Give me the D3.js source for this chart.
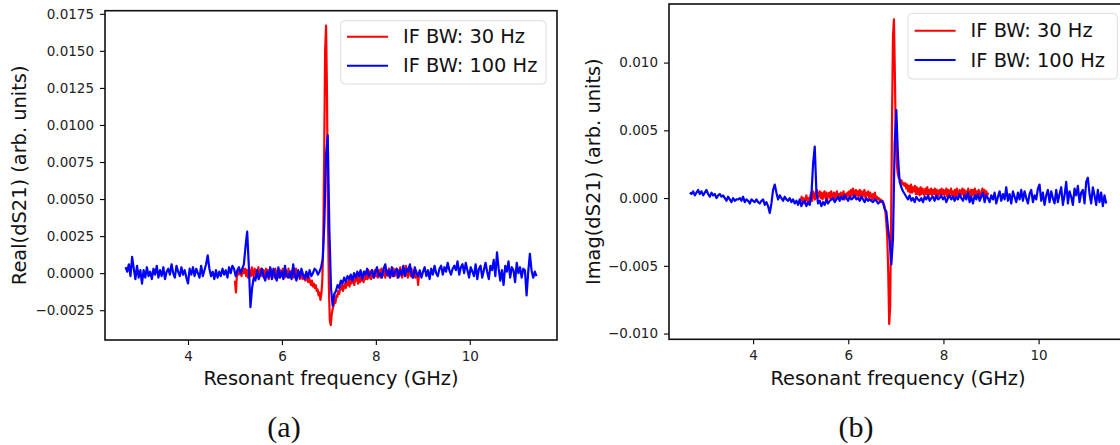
<!DOCTYPE html>
<html>
<head>
<meta charset="utf-8">
<script src="https://cdn.jsdelivr.net/npm/d3@7"></script>
<style>
  body { margin: 0; background: #fff; }
  svg { display: block; font-family: "DejaVu Sans", sans-serif; }
</style>
</head>
<body>
<div id="chart"></div>
<script>
// series, values in units of 1e-4 (arb. units)
var seriesNames = ["IF BW: 30 Hz", "IF BW: 100 Hz"];
var seriesColors = ["#ff0000", "#0000ff"];

// frequency sweeps (GHz): start and step of each sweep
var f30Start = 5.0, f30Step = 0.02;
var f100Start = 2.67, f100Step = 0.035;

var xTicks = [4, 6, 8, 10];
var realTicks = [-0.0025, 0, 0.0025, 0.005, 0.0075, 0.01, 0.0125, 0.015, 0.0175];
var imagTicks = [-0.01, -0.005, 0, 0.005, 0.01];

var real30 = [
  -5, -13, -2, 1, -1, 2, 0, -2, 1, 3,
  0, 3, -2, 2, -3, 3, 1, -2, 4, -1,
  -2, 3, 0, -3, 2, 4, -2, 1, 3, -2,
  2, -3, 1, 3, -2, 2, -4, 0, 3, -2,
  0, 2, -3, 3, -2, 1, 2, -3, 2, -2,
  1, 3, -2, -3, 2, 0, -2, 3, -3, 1,
  -2, 2, -3, 1, -2, 3, -3, -1, 1, -4,
  -1, -2, -4, -1, -3, -5, -2, -4, -6, -3,
  -6, -8, -5, -9, -7, -10, -8, -12, -11, -15,
  -13, -18, -14, -5, 20, 80, 150, 167, 120, 40,
  -10, -32, -35, -28, -24, -22, -18, -20, -15, -16,
  -12, -14, -10, -11, -8, -12, -9, -7, -10, -6,
  -8, -5, -9, -4, -7, -6, -3, -8, -4, -5,
  -2, -7, -2, -6, 0, -5, -1, -6, 1, -4,
  -1, -4, 2, -3, 1, -4, 2, -2, -3, 2,
  -2, 3, -3, 1, 2, -3, 3, -2, 0, 2,
  -3, 2, 0, -2, 3, -3, 1, 2, -2, 3,
  -2, 1, 3, -3, 2, -2, 4, 0, -3, 2,
  3, -2, 5, 0, -3, 4, 1, -2, 3, -3,
  0, 2, -3, 1, -1, -8, 0, -2
];

var real100 = [
  4, 1, 6, -2, 11, 3, -4, 5, -3, 2,
  -7, 2, -3, 4, -2, 1, -4, 3, -1, 5,
  -3, 2, -2, 4, -4, 1, 3, -1, 6, 0,
  -3, 5, 1, -2, 4, -1, 2, -3, -7, 3,
  -1, 4, -2, 3, 0, -3, 5, -2, 2, 6,
  12, 3, -2, 1, -4, 2, -3, 1, -2, 3,
  -1, 2, -3, 4, 0, 5, 3, -2, 2, 4,
  0, 3, 6, 18, 28, 5, -23, -10, -3, -5,
  2, -4, -1, 3, -2, -5, 1, -3, 4, -4,
  3, -2, -5, 4, -3, 1, -4, 5, -2, -3,
  1, -4, 6, -2, -5, 2, -3, 3, -1, -4,
  1, -3, 2, -2, 0, 3, 2, -1, 1, 4,
  10, 35, 80, 93, 30, -10, -22, -14, -12, -8,
  -10, -5, -7, -3, -6, -2, -4, -1, -5, 0,
  -3, 1, -2, 2, -4, 1, -1, 3, -2, 0,
  2, -3, 1, 4, -2, 0, -3, 3, 6, -1,
  2, -3, 4, -2, 1, 3, -3, 2, -1, 5,
  -2, 3, 1, 6, -1, -3, 4, 0, -2, 2,
  -3, 1, 4, -2, 2, -4, 3, -1, 5, 0,
  -2, 3, 5, -1, 4, 1, 7, 2, -1, 3,
  5, 2, 8, -1, 4, 6, 0, 7, 2, -3,
  4, 1, -2, 6, -4, 3, 5, -3, 2, 7,
  1, -4, 5, 2, 9, -2, 14, 3, -5, 2,
  -8, 5, 1, 8, -3, 4, 2, -6, 7, 0,
  4, -3, 3, 2, -15, 1, 13, 2, -3, 1,
  -2
];

var imag30 = [
  -2, 1, -3, 0, -4, -1, 2, -2, 0, -3,
  1, 4, -2, 5, 2, -1, 4, 6, 0, 3,
  5, 0, 4, -1, 3, 5, 0, 4, -1, 3,
  4, 0, 5, 2, -1, 4, 0, 3, 5, 0,
  3, -1, 4, 0, 3, 5, -1, 3, 0, 4,
  2, 5, 0, 6, 2, 7, 1, 5, 6, 2,
  5, 1, 6, 2, 5, 1, 4, 6, 0, 4,
  2, 5, 0, 4, 2, -1, 3, 0, 4, -1,
  1, -1, 0, -2, -1, -3, -2, -4, -6, -10,
  -18, -30, -55, -93, -80, -20, 60, 120, 132, 90,
  40, 25, 18, 15, 14, 12, 13, 10, 11, 9,
  11, 7, 10, 5, 9, 4, 10, 4, 8, 5,
  9, 3, 8, 3, 7, 2, 8, 3, 7, 4,
  2, 7, 3, 8, 1, 6, 3, 7, 2, 6,
  3, 7, 2, 6, 1, 5, 6, 2, 7, 3,
  6, 2, 5, 7, 1, 6, 2, 5, 7, 2,
  5, 1, 6, 2, 7, 3, 1, 6, 2, 5,
  7, 2, 6, 1, 5, 2, 7, 3, 1, 6,
  2, 6, 3, 7, 1, 5, 2, 6, 3, 1,
  5, 7, 2, 6, 1, 5, 2, 4
];

var imag100 = [
  4, 3, 5, 2, 4, 6, 3, 5, 2, 4,
  6, 3, 1, 4, 2, 3, 0, 2, 3, 1,
  2, 0, -2, 1, -1, -3, 0, -2, -1, -1,
  0, -2, 1, -3, -1, -2, -4, -1, -2, -3,
  -1, -3, -4, -2, -1, -5, -3, -6, -11, -4,
  6, 10, 4, -1, 2, 0, -2, 1, -1, -2,
  0, -3, -1, -4, -2, -5, -1, -6, -3, -2,
  -6, -3, -5, 2, 25, 38, 5, -4, -2, -6,
  -3, -5, -1, -4, -2, -1, 0, -3, -1, 1,
  -2, 1, -1, 2, 0, -2, 1, -1, 0, 2,
  -1, 0, -2, 1, -1, -3, 0, -2, -1, -2,
  -3, -1, -2, -4, -3, -2, -3, -8, -10, -22,
  -32, -49, -30, 40, 65, 30, 12, 8, 5, 3,
  1, -1, 2, -2, 0, -3, 1, -1, -2, 0,
  -3, 1, -1, 2, -2, 0, 1, -2, 2, -1,
  0, 2, -1, 1, -3, 0, 2, -1, 1, -2,
  1, -1, 3, 0, -2, 2, -1, 4, -3, 1,
  -4, 2, -1, 3, -2, 1, 4, -3, 2, 0,
  -3, 2, -1, 4, -4, 1, 5, -2, 3, -1,
  8, -2, 3, -4, 5, 1, -3, 4, -1, 6,
  -2, 5, 0, -4, 3, 6, -3, 2, -1, 7,
  10, -2, 4, -5, 2, 6, -3, 5, 0, -4,
  6, -3, 3, 8, -5, 2, 12, -4, 5, 1,
  -5, 7, 2, 9, -3, 4, 6, -4, 12, 15,
  3, -4, 8, 2, -5, 6, -3, 4, -6, 2,
  -4
];

function toPoints(vals, start, step) {
  return vals.map(function(v, i) { return [start + step * i, v * 1e-4]; });
}

var panels = [
  { label: "(a)", ylabel: "Real(dS21) (arb. units)", ticks: realTicks, fmt: ".4f",
    left: 105, right: 557, top: 10.7, bottom: 340, ylabX: 19, capX: 284,
    legend: { x0: 340.7, x1: 546, y0: 20.7, y1: 84, rows: [36.7, 65.7], lx: 347 },
    series: [toPoints(real30, f30Start, f30Step), toPoints(real100, f100Start, f100Step)] },
  { label: "(b)", ylabel: "Imag(dS21) (arb. units)", ticks: imagTicks, fmt: ".3f",
    left: 669, right: 1127, top: 4, bottom: 339.3, ylabX: 593, capX: 856,
    legend: { x0: 908, x1: 1117.3, y0: 13.3, y1: 79, rows: [30.7, 60], lx: 914.6 },
    series: [toPoints(imag30, f30Start, f30Step), toPoints(imag100, f100Start, f100Step)] }
];

var W = 1120, H = 445;
var svg = d3.select("#chart").append("svg")
    .attr("width", W)
    .attr("height", H);

// matplotlib-like 5% margins around the data
function padded(ext) {
  var m = (ext[1] - ext[0]) * 0.05;
  return [ext[0] - m, ext[1] + m];
}

panels.forEach(function(p) {
  var all = p.series[0].concat(p.series[1]);
  var x = d3.scaleLinear()
      .domain(padded(d3.extent(all, function(d) { return d[0]; })))
      .range([p.left, p.right]);
  var y = d3.scaleLinear()
      .domain(padded(d3.extent(all, function(d) { return d[1]; })))
      .range([p.bottom, p.top]);

  var g = svg.append("g");

  var line = d3.line()
      .x(function(d) { return x(d[0]); })
      .y(function(d) { return y(d[1]); });

  g.selectAll(".trace")
    .data(p.series)
    .enter().append("path")
      .attr("class", "trace")
      .attr("fill", "none")
      .attr("stroke", function(d, i) { return seriesColors[i]; })
      .attr("stroke-width", 2.2)
      .attr("stroke-linejoin", "round")
      .attr("d", line);

  var xAxis = g.append("g")
      .attr("transform", "translate(0," + p.bottom + ")")
      .call(d3.axisBottom(x).tickValues(xTicks).tickFormat(d3.format("d"))
        .tickSize(5).tickPadding(6));
  var yAxis = g.append("g")
      .attr("transform", "translate(" + p.left + ",0)")
      .call(d3.axisLeft(y).tickValues(p.ticks).tickFormat(d3.format(p.fmt))
        .tickSize(5).tickPadding(6));

  [xAxis, yAxis].forEach(function(a) {
    a.attr("font-family", null).attr("font-size", null);
    a.select(".domain").remove();
    a.selectAll("line").attr("stroke", "#000").attr("stroke-width", 1.1);
    a.selectAll("text").attr("fill", "#222").style("font-size", "13.5px");
  });

  // axes frame
  g.append("rect")
      .attr("x", p.left).attr("y", p.top)
      .attr("width", p.right - p.left).attr("height", p.bottom - p.top)
      .attr("fill", "none").attr("stroke", "#111").attr("stroke-width", 1.6);

  g.append("text")
      .attr("x", (p.left + p.right) / 2).attr("y", 384.5)
      .attr("text-anchor", "middle")
      .style("font-size", "19.4px").attr("fill", "#111")
      .text("Resonant frequency (GHz)");

  g.append("text")
      .attr("transform", "translate(" + p.ylabX + "," + (p.top + p.bottom) / 2 + ")rotate(-90)")
      .attr("text-anchor", "middle")
      .attr("dominant-baseline", "central")
      .style("font-size", "19.4px").attr("fill", "#111")
      .text(p.ylabel);

  // legend
  var L = p.legend;
  var lg = g.append("g");
  lg.append("rect")
      .attr("x", L.x0).attr("y", L.y0)
      .attr("width", L.x1 - L.x0).attr("height", L.y1 - L.y0)
      .attr("rx", 4)
      .attr("fill", "#fff").attr("fill-opacity", 0.8)
      .attr("stroke", "#dddddd").attr("stroke-width", 1);
  seriesNames.forEach(function(name, i) {
    lg.append("line")
        .attr("x1", L.lx).attr("x2", L.lx + 41)
        .attr("y1", L.rows[i]).attr("y2", L.rows[i])
        .attr("stroke", seriesColors[i]).attr("stroke-width", 2);
    lg.append("text")
        .attr("x", L.lx + 56).attr("y", L.rows[i])
        .attr("dominant-baseline", "central")
        .style("font-size", "19.4px").attr("fill", "#111")
        .text(name);
  });

  svg.append("text")
      .attr("x", p.capX).attr("y", 437)
      .attr("text-anchor", "middle")
      .style("font-family", "'Liberation Serif', serif")
      .style("font-size", "30px").attr("fill", "#111")
      .text(p.label);
});
</script>
</body>
</html>
